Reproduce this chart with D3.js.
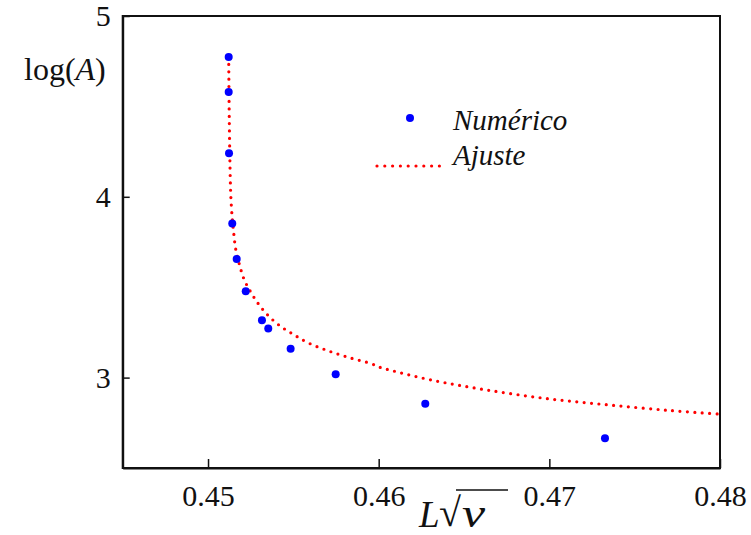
<!DOCTYPE html>
<html>
<head>
<meta charset="utf-8">
<script src="https://cdn.jsdelivr.net/npm/d3@7"></script>
<style>
  html, body { margin: 0; padding: 0; background: #fff; }
  svg { display: block; }
  text { font-family: "Liberation Serif", serif; fill: #111; }
  .tick text { font-family: "Liberation Serif", serif !important; }
</style>
</head>
<body>
<svg id="chart" width="751" height="535"></svg>
<script>
// Data
const numX = [0.45121, 0.45121, 0.45123, 0.45142, 0.45168, 0.45221, 0.45316, 0.45353, 0.45484, 0.45748, 0.46273, 0.47326];
const numY = [4.773, 4.580, 4.241, 3.852, 3.656, 3.477, 3.317, 3.272, 3.160, 3.018, 2.855, 2.665];

const fitX = [0.451211, 0.451246, 0.451305, 0.451346, 0.451422, 0.451504, 0.451621, 0.451832, 0.452107, 0.452517, 0.453027, 0.453613, 0.454275, 0.455019, 0.455875, 0.457047, 0.458336, 0.459566, 0.460076, 0.460972, 0.463164, 0.466287, 0.469843, 0.473452, 0.477068, 0.48];
const fitY = [4.773, 4.425, 4.094, 3.983, 3.878, 3.801, 3.711, 3.628, 3.545, 3.471, 3.398, 3.335, 3.282, 3.238, 3.192, 3.148, 3.109, 3.077, 3.057, 3.034, 2.985, 2.932, 2.884, 2.849, 2.818, 2.798];

const xTicks = [0.45, 0.46, 0.47, 0.48];
const xTickLabels = ["0.45", "0.46", "0.47", "0.48"];
const yTicks = [3, 4, 5];
const yTickLabels = ["3", "4", "5"];
const legendLabels = ["Numérico", "Ajuste"];

const SERIF = '"Liberation Serif", serif';
const svg = d3.select("#chart");
const mLeft = 122.7, mRight = 720, mTop = 16, mBottom = 468;

const x = d3.scaleLinear().domain([0.445, 0.48]).range([mLeft, mRight]);
const y = d3.scaleLinear().domain([2.5, 5]).range([mBottom, mTop]);

// Frame
svg.append("rect")
  .attr("x", mLeft).attr("y", mTop)
  .attr("width", mRight - mLeft).attr("height", mBottom - mTop)
  .attr("fill", "none").attr("stroke", "#111").attr("stroke-width", 2);

// Bottom axis (inward ticks)
const xAxis = d3.axisBottom(x).tickValues(xTicks)
  .tickFormat((d, i) => xTickLabels[i]).tickSizeInner(-9).tickSizeOuter(0).tickPadding(17);
const gx = svg.append("g").attr("transform", `translate(0,${mBottom})`).call(xAxis)
  .attr("font-family", SERIF).attr("font-size", 30);
gx.select(".domain").attr("stroke", "#111").attr("stroke-width", 2);
gx.selectAll(".tick line").attr("stroke", "#111").attr("stroke-width", 1.5);
gx.selectAll(".tick text").attr("font-family", SERIF).attr("font-size", 30).attr("fill", "#111");

// Left axis (inward ticks)
const yAxis = d3.axisLeft(y).tickValues(yTicks)
  .tickFormat((d, i) => yTickLabels[i]).tickSizeInner(-7).tickSizeOuter(0).tickPadding(12);
const gy = svg.append("g").attr("transform", `translate(${mLeft},0)`).call(yAxis)
  .attr("font-family", SERIF).attr("font-size", 30);
gy.select(".domain").attr("stroke", "#111").attr("stroke-width", 2);
gy.selectAll(".tick line").attr("stroke", "#111").attr("stroke-width", 1.5);
gy.selectAll(".tick text").attr("font-family", SERIF).attr("font-size", 30).attr("fill", "#111");

// Fit curve (dotted red)
const fitData = fitX.map((v, i) => [v, fitY[i]]);
const line = d3.line().x(d => x(d[0])).y(d => y(d[1])).curve(d3.curveCatmullRom.alpha(0.5));
svg.append("path")
  .datum(fitData)
  .attr("d", line)
  .attr("fill", "none")
  .attr("stroke", "#ff0000")
  .attr("stroke-width", 3.2)
  .attr("stroke-linecap", "round")
  .attr("stroke-dasharray", "0 7.4");

// Numerical points
svg.append("g").selectAll("circle")
  .data(numX.map((v, i) => [v, numY[i]]))
  .join("circle")
  .attr("cx", d => x(d[0]))
  .attr("cy", d => y(d[1]))
  .attr("r", 4)
  .attr("fill", "#0000ff");

// Legend
svg.append("circle").attr("cx", 410).attr("cy", 118).attr("r", 4).attr("fill", "#0000ff");
svg.append("text").attr("x", 453).attr("y", 130)
  .style("font-style", "italic").style("font-size", "29px").text(legendLabels[0]);
svg.append("line").attr("x1", 377).attr("x2", 440).attr("y1", 166).attr("y2", 166)
  .attr("stroke", "#ff0000").attr("stroke-width", 3.2)
  .attr("stroke-linecap", "round").attr("stroke-dasharray", "0 7.8");
svg.append("text").attr("x", 453).attr("y", 165)
  .style("font-style", "italic").style("font-size", "29px").text(legendLabels[1]);

// Y axis label: log(A)
const yl = svg.append("text").attr("x", 24).attr("y", 80).style("font-size", "32px");
yl.append("tspan").text("log(");
yl.append("tspan").style("font-style", "italic").text("A");
yl.append("tspan").text(")");

// X axis label: L sqrt(nu)
svg.append("text").attr("x", 419).attr("y", 527)
  .style("font-style", "italic").style("font-size", "37px").text("L");
svg.append("text").attr("x", 439).attr("y", 526)
  .style("font-size", "40px").text("√");
svg.append("text").attr("transform", "translate(462,527) scale(1.3,1)")
  .style("font-style", "italic").style("font-size", "40px").text("ν");
svg.append("line").attr("x1", 456).attr("x2", 508).attr("y1", 490).attr("y2", 490)
  .attr("stroke", "#111").attr("stroke-width", 1.6);
</script>
</body>
</html>
